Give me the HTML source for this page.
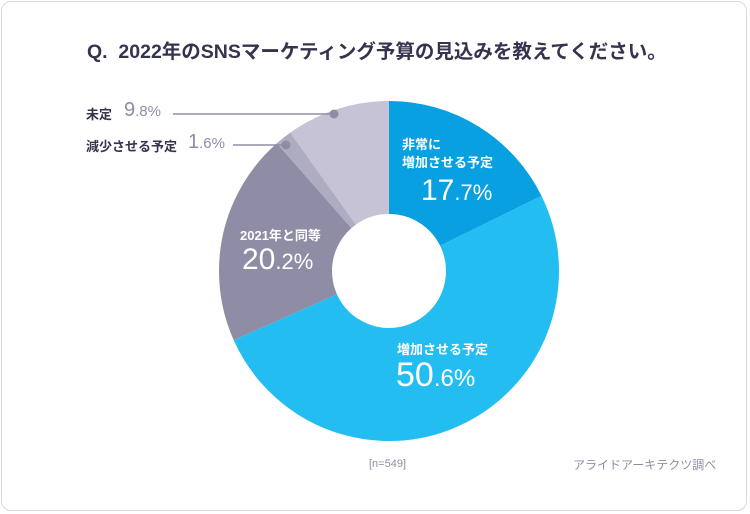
<!DOCTYPE html>
<html><head><meta charset="utf-8"><style>
html,body{margin:0;padding:0;background:#fff;}
body{width:750px;height:514px;position:relative;overflow:hidden;font-family:"Liberation Sans","Noto Sans CJK JP",sans-serif;}
.frame{position:absolute;left:1px;top:1px;width:746px;height:510px;border:1px solid #d8d8de;border-radius:10px;box-sizing:border-box;}
.t{position:absolute;white-space:nowrap;}
</style></head><body>
<div class="frame"></div>
<div class="t" style="left:87px;top:35px;font-size:19.5px;font-weight:bold;color:#35344f;">Q.&nbsp; 2022年のSNSマーケティング予算の見込みを教えてください。</div>
<svg width="750" height="514" style="position:absolute;left:0;top:0">
<g transform="rotate(-90 389 271)" fill="none" stroke-width="113">
<circle cx="389" cy="271" r="113.5" stroke="#08a0e0" stroke-dasharray="126.23 713.14" stroke-dashoffset="0"/>
<circle cx="389" cy="271" r="113.5" stroke="#24bdf2" stroke-dasharray="360.85 713.14" stroke-dashoffset="-126.23"/>
<circle cx="389" cy="271" r="113.5" stroke="#8f8da6" stroke-dasharray="144.05 713.14" stroke-dashoffset="-487.08"/>
<circle cx="389" cy="271" r="113.5" stroke="#aeacc0" stroke-dasharray="11.41 713.14" stroke-dashoffset="-631.13"/>
<circle cx="389" cy="271" r="113.5" stroke="#c5c3d5" stroke-dasharray="70.6 713.14" stroke-dashoffset="-642.54"/>
</g>
<line x1="173" y1="114" x2="334" y2="114" stroke="#8f8da6" stroke-width="1.5"/>
<circle cx="334" cy="114" r="4.5" fill="#8f8da6"/>
<line x1="233" y1="145" x2="286" y2="145" stroke="#8f8da6" stroke-width="1.5"/>
<circle cx="286" cy="145" r="4.5" fill="#8f8da6"/>
</svg>
<div class="t" style="left:86px;top:104px;font-size:13px;font-weight:bold;color:#35344f;">未定</div>
<div class="t" style="left:124px;top:99px;font-size:20px;color:#8f8da6;">9<span style="font-size:15px">.8%</span></div>
<div class="t" style="left:86px;top:136px;font-size:13px;font-weight:bold;color:#35344f;">減少させる予定</div>
<div class="t" style="left:188px;top:131px;font-size:20px;color:#8f8da6;">1<span style="font-size:15px">.6%</span></div>
<div class="t" style="left:402px;top:136px;font-size:13px;font-weight:bold;color:#fff;line-height:18px;">非常に<br>増加させる予定</div>
<div class="t" style="left:421px;top:174px;font-size:30px;color:#fff;">17<span style="font-size:22px">.7%</span></div>
<div class="t" style="left:240px;top:225px;font-size:13px;font-weight:bold;color:#fff;">2021年と同等</div>
<div class="t" style="left:242px;top:243px;font-size:30px;color:#fff;">20<span style="font-size:22px">.2%</span></div>
<div class="t" style="left:397px;top:339px;font-size:13px;font-weight:bold;color:#fff;">増加させる予定</div>
<div class="t" style="left:396px;top:356px;font-size:34px;color:#fff;">50<span style="font-size:24px">.6%</span></div>
<div class="t" style="left:369px;top:458px;font-size:11px;color:#8f8da6;">[n=549]</div>
<div class="t" style="left:573px;top:456px;font-size:12px;color:#8f8da6;">アライドアーキテクツ調べ</div>
</body></html>
